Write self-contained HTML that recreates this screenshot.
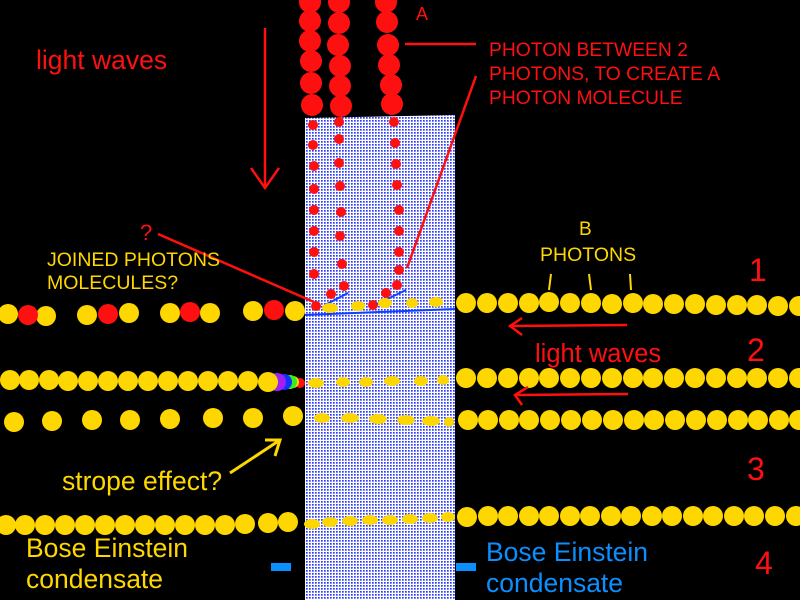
<!DOCTYPE html>
<html><head><meta charset="utf-8"><style>
html,body{margin:0;padding:0;background:#000;}
svg{display:block}
text{font-family:"Liberation Sans",sans-serif;}
</style></head><body>
<svg width="800" height="600" viewBox="0 0 800 600" xmlns="http://www.w3.org/2000/svg">
<defs>
<pattern id="dots" width="3" height="3" patternUnits="userSpaceOnUse">
<rect width="3" height="3" fill="#fff"/><rect x="0" y="0" width="1.7" height="1.7" fill="#2a3cff"/>
</pattern>
</defs>
<rect width="800" height="600" fill="#000"/>
<polygon points="305,118 455,115 455,600 305,600" fill="url(#dots)"/>

<g fill="#ff1010">
<circle cx="310" cy="2" r="11"/><circle cx="310" cy="21" r="11"/><circle cx="310" cy="41" r="11"/><circle cx="311" cy="61" r="11"/><circle cx="311" cy="83" r="11"/><circle cx="312" cy="105" r="11"/>
<circle cx="339" cy="2" r="11"/><circle cx="339" cy="23" r="11"/><circle cx="338" cy="45" r="11"/><circle cx="340" cy="66" r="11"/><circle cx="340" cy="86" r="11"/><circle cx="341" cy="106" r="11"/>
<circle cx="386" cy="2" r="11"/><circle cx="387" cy="22" r="11"/><circle cx="388" cy="45" r="11"/><circle cx="389" cy="65" r="11"/><circle cx="391" cy="85" r="11"/><circle cx="392" cy="104" r="11"/>
<circle cx="313" cy="125" r="5"/><circle cx="313" cy="145" r="5"/><circle cx="314" cy="166" r="5"/><circle cx="314" cy="189" r="5"/><circle cx="314" cy="210" r="5"/><circle cx="314" cy="231" r="5"/><circle cx="314" cy="252" r="5"/><circle cx="314" cy="274" r="5"/><circle cx="316" cy="306" r="5"/>
<circle cx="339" cy="122" r="5"/><circle cx="339" cy="139" r="5"/><circle cx="339" cy="163" r="5"/><circle cx="340" cy="186" r="5"/><circle cx="341" cy="212" r="5"/><circle cx="340" cy="236" r="5"/><circle cx="342" cy="264" r="5"/><circle cx="344" cy="286" r="5"/><circle cx="331" cy="294" r="5"/>
<circle cx="394" cy="122" r="5"/><circle cx="395" cy="143" r="5"/><circle cx="396" cy="164" r="5"/><circle cx="397" cy="185" r="5"/><circle cx="399" cy="210" r="5"/><circle cx="399" cy="231" r="5"/><circle cx="399" cy="252" r="5"/><circle cx="399" cy="270" r="5"/><circle cx="397" cy="285" r="5"/><circle cx="386" cy="293" r="5"/><circle cx="373" cy="305" r="5"/>
</g>
<g stroke="#1040ff" stroke-width="2">
<line x1="325" y1="305" x2="348" y2="293"/><line x1="377" y1="304" x2="406" y2="290"/>
<line x1="305" y1="315" x2="455" y2="309"/>
</g>
<g fill="#ffd700">
<ellipse cx="330" cy="308" rx="8" ry="5"/><ellipse cx="358" cy="306" rx="7" ry="5"/><ellipse cx="385" cy="303" rx="7" ry="5"/><ellipse cx="412" cy="303" rx="6" ry="5"/><ellipse cx="436" cy="302" rx="7" ry="5"/>
<ellipse cx="316" cy="383" rx="8" ry="5"/><ellipse cx="343" cy="382" rx="7" ry="5"/><ellipse cx="366" cy="382" rx="7" ry="5"/><ellipse cx="392" cy="381" rx="8" ry="5"/><ellipse cx="421" cy="381" rx="7" ry="5"/><ellipse cx="443" cy="380" rx="6" ry="5"/>
<ellipse cx="322" cy="418" rx="8" ry="5"/><ellipse cx="350" cy="418" rx="9" ry="5"/><ellipse cx="378" cy="419" rx="9" ry="5"/><ellipse cx="406" cy="420" rx="9" ry="5"/><ellipse cx="431" cy="421" rx="9" ry="5"/><ellipse cx="449" cy="422" rx="5" ry="5"/>
<ellipse cx="312" cy="524" rx="8" ry="5"/><ellipse cx="330" cy="522" rx="8" ry="5"/><ellipse cx="350" cy="521" rx="8" ry="5"/><ellipse cx="370" cy="520" rx="8" ry="5"/><ellipse cx="390" cy="520" rx="8" ry="5"/><ellipse cx="410" cy="519" rx="8" ry="5"/><ellipse cx="430" cy="518" rx="8" ry="5"/><ellipse cx="448" cy="517" rx="7" ry="5"/>
</g>

<g fill="#ffd700">
<circle cx="8" cy="314" r="10"/><circle cx="46" cy="316" r="10"/><circle cx="87" cy="315" r="10"/><circle cx="129" cy="313" r="10"/><circle cx="170" cy="313" r="10"/><circle cx="210" cy="313" r="10"/><circle cx="253" cy="311" r="10"/><circle cx="295" cy="311" r="10"/>
<circle cx="10" cy="380" r="10"/><circle cx="29" cy="380" r="10"/><circle cx="49" cy="380" r="10"/><circle cx="68" cy="381" r="10"/><circle cx="88" cy="381" r="10"/><circle cx="108" cy="381" r="10"/><circle cx="128" cy="381" r="10"/><circle cx="148" cy="381" r="10"/><circle cx="168" cy="381" r="10"/><circle cx="188" cy="381" r="10"/><circle cx="208" cy="381" r="10"/><circle cx="228" cy="381" r="10"/><circle cx="248" cy="381" r="10"/>
<circle cx="14" cy="422" r="10"/><circle cx="52" cy="421" r="10"/><circle cx="92" cy="420" r="10"/><circle cx="130" cy="420" r="10"/><circle cx="170" cy="419" r="10"/><circle cx="213" cy="418" r="10"/><circle cx="253" cy="418" r="10"/><circle cx="293" cy="416" r="10"/>
<circle cx="6" cy="525" r="10"/><circle cx="25" cy="525" r="10"/><circle cx="45" cy="525" r="10"/><circle cx="65" cy="525" r="10"/><circle cx="85" cy="525" r="10"/><circle cx="105" cy="525" r="10"/><circle cx="125" cy="525" r="10"/><circle cx="145" cy="525" r="10"/><circle cx="165" cy="525" r="10"/><circle cx="185" cy="525" r="10"/><circle cx="205" cy="525" r="10"/><circle cx="225" cy="525" r="10"/><circle cx="245" cy="524" r="10"/><circle cx="268" cy="523" r="10"/><circle cx="288" cy="522" r="10"/>
</g>
<g fill="#ff1010">
<circle cx="28" cy="315" r="10"/><circle cx="108" cy="314" r="10"/><circle cx="190" cy="312" r="10"/><circle cx="274" cy="310" r="10"/>
</g>
<circle cx="300" cy="383" r="5" fill="#ff1010"/>
<circle cx="293" cy="382" r="6" fill="#ffd700"/>
<circle cx="290" cy="382" r="7" fill="#33ee22"/>
<circle cx="284" cy="382" r="8" fill="#1030ff"/>
<circle cx="277" cy="382" r="9" fill="#a020f0"/>
<circle cx="268" cy="382" r="10" fill="#ffd700"/>

<g fill="#ffd700">
<circle cx="466" cy="303" r="10"/><circle cx="487" cy="303" r="10"/><circle cx="508" cy="303" r="10"/><circle cx="529" cy="303" r="10"/><circle cx="549" cy="302" r="10"/><circle cx="570" cy="303" r="10"/><circle cx="591" cy="303" r="10"/><circle cx="612" cy="304" r="10"/><circle cx="633" cy="303" r="10"/><circle cx="653" cy="304" r="10"/><circle cx="674" cy="304" r="10"/><circle cx="695" cy="304" r="10"/><circle cx="716" cy="305" r="10"/><circle cx="737" cy="305" r="10"/><circle cx="757" cy="305" r="10"/><circle cx="778" cy="306" r="10"/><circle cx="799" cy="306" r="10"/>
<circle cx="466" cy="378" r="10"/><circle cx="487" cy="378" r="10"/><circle cx="508" cy="378" r="10"/><circle cx="529" cy="378" r="10"/><circle cx="549" cy="378" r="10"/><circle cx="570" cy="378" r="10"/><circle cx="591" cy="378" r="10"/><circle cx="612" cy="378" r="10"/><circle cx="633" cy="378" r="10"/><circle cx="653" cy="378" r="10"/><circle cx="674" cy="378" r="10"/><circle cx="695" cy="378" r="10"/><circle cx="716" cy="378" r="10"/><circle cx="737" cy="378" r="10"/><circle cx="757" cy="378" r="10"/><circle cx="778" cy="378" r="10"/><circle cx="799" cy="378" r="10"/>
<circle cx="468" cy="420" r="10"/><circle cx="488" cy="420" r="10"/><circle cx="509" cy="420" r="10"/><circle cx="529" cy="420" r="10"/><circle cx="550" cy="420" r="10"/><circle cx="571" cy="420" r="10"/><circle cx="592" cy="420" r="10"/><circle cx="613" cy="420" r="10"/><circle cx="634" cy="420" r="10"/><circle cx="654" cy="420" r="10"/><circle cx="675" cy="420" r="10"/><circle cx="696" cy="420" r="10"/><circle cx="717" cy="420" r="10"/><circle cx="738" cy="420" r="10"/><circle cx="758" cy="420" r="10"/><circle cx="779" cy="420" r="10"/><circle cx="799" cy="420" r="10"/>
<circle cx="467" cy="517" r="10"/><circle cx="488" cy="516" r="10"/><circle cx="508" cy="516" r="10"/><circle cx="529" cy="516" r="10"/><circle cx="549" cy="516" r="10"/><circle cx="570" cy="516" r="10"/><circle cx="590" cy="516" r="10"/><circle cx="611" cy="516" r="10"/><circle cx="631" cy="516" r="10"/><circle cx="652" cy="516" r="10"/><circle cx="672" cy="516" r="10"/><circle cx="693" cy="516" r="10"/><circle cx="713" cy="516" r="10"/><circle cx="734" cy="516" r="10"/><circle cx="754" cy="516" r="10"/><circle cx="775" cy="516" r="10"/><circle cx="796" cy="516" r="10"/>
</g>

<g stroke="#ff1010" stroke-width="2.5" fill="none">
<line x1="265" y1="28" x2="265" y2="188"/>
<polyline points="251,168 265,188 279,168"/>
<line x1="405" y1="44" x2="476" y2="44"/>
<line x1="476" y1="76" x2="407" y2="268"/>
<line x1="158" y1="234" x2="314" y2="302"/>
<line x1="627" y1="325" x2="510" y2="326"/>
<polyline points="522,318 510,326 522,335"/>
<line x1="628" y1="394" x2="515" y2="395"/>
<polyline points="528,387 515,395 522,405"/>
</g>
<g stroke="#ffd700" stroke-width="2" fill="none">
<line x1="551" y1="274" x2="549" y2="290"/><line x1="589" y1="274" x2="591" y2="290"/><line x1="630" y1="274" x2="631" y2="290"/>
</g>
<g stroke="#ffd700" stroke-width="3" fill="none">
<line x1="230" y1="473" x2="280" y2="440"/>
<polyline points="265,440 280,440 275,456"/>
</g>
<rect x="271" y="563" width="20" height="8" fill="#0a8fff"/>
<rect x="456" y="563" width="20" height="8" fill="#0a8fff"/>

<g fill="#ff1010">
<text x="36" y="69" font-size="26.5">light waves</text>
<text x="535" y="362" font-size="25.5">light waves</text>
<text x="416" y="20" font-size="18">A</text>
<text x="140" y="240" font-size="22">?</text>
<text x="749" y="281" font-size="32">1</text>
<text x="747" y="361" font-size="32">2</text>
<text x="747" y="480" font-size="32">3</text>
<text x="755" y="574" font-size="32">4</text>
<text x="489" y="56" font-size="19.3">PHOTON BETWEEN 2</text>
<text x="489" y="80" font-size="19.3">PHOTONS, TO CREATE A</text>
<text x="489" y="104" font-size="19.3">PHOTON MOLECULE</text>
</g>
<g fill="#ffd700">
<text x="579" y="235" font-size="19">B</text>
<text x="540" y="261" font-size="19.5">PHOTONS</text>
<text x="47" y="266" font-size="19.5">JOINED PHOTONS</text>
<text x="47" y="289" font-size="19.5">MOLECULES?</text>
<text x="62" y="490" font-size="26.5">strope effect?</text>
<text x="26" y="557" font-size="26.5">Bose Einstein</text>
<text x="26" y="588" font-size="26.5">condensate</text>
</g>
<g fill="#0a8fff" font-size="26.5">
<text x="486" y="561">Bose Einstein</text>
<text x="486" y="592">condensate</text>
</g>
</svg>
</body></html>
